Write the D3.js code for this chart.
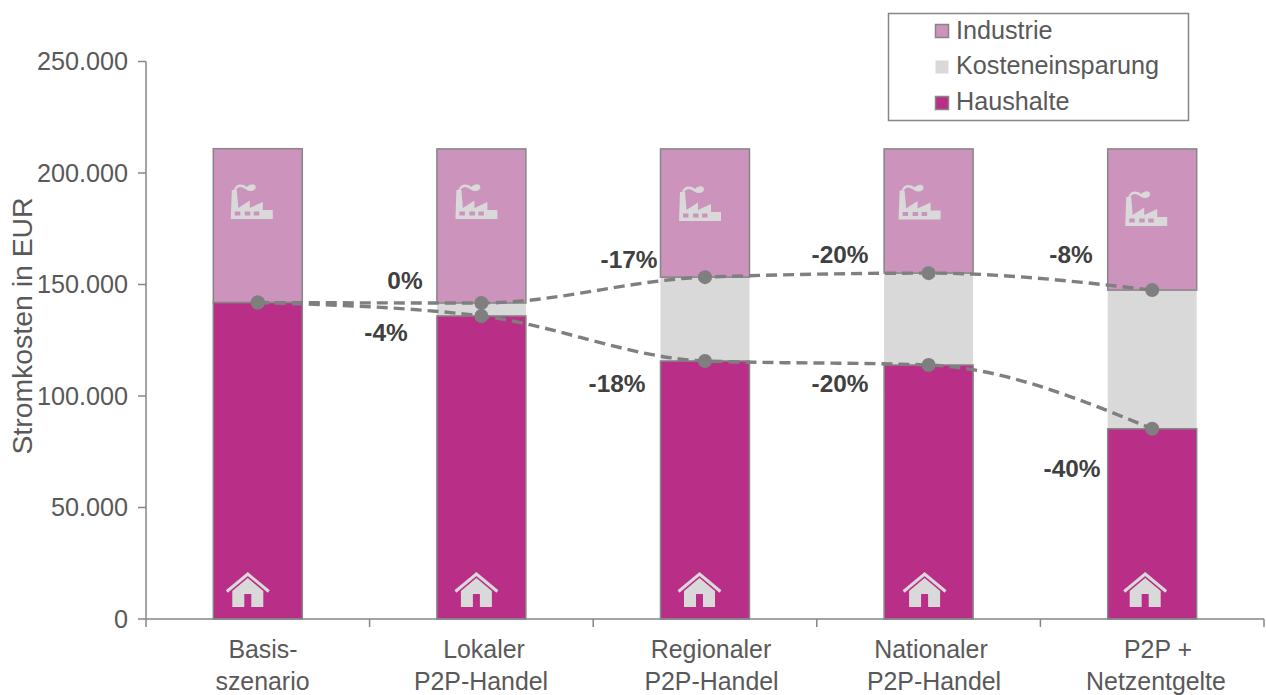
<!DOCTYPE html>
<html><head><meta charset="utf-8">
<script src="https://cdn.jsdelivr.net/npm/d3@7"></script>
<style>html,body{margin:0;background:#fff}svg{display:block}text{font-family:"Liberation Sans",Arial,sans-serif}</style>
</head><body><svg id="c" width="1266" height="695"></svg>
<script>
const categories=[["Basis-","szenario"],["Lokaler","P2P-Handel"],["Regionaler","P2P-Handel"],["Nationaler","P2P-Handel"],["P2P +","Netzentgelte"]];
const haushalte=[141900,135900,115700,113900,85300];
const einsparung=[0,5800,37600,41200,62200];
const industrie=[69000,69100,57500,55700,63300];
const labelsUpper=["0%","-17%","-20%","-8%"];
const labelsLower=["-4%","-18%","-20%","-40%"];
const yTicks=[0,50000,100000,150000,200000,250000];
const legendItems=["Industrie","Kosteneinsparung","Haushalte"];

const svg=d3.select("#c");
const C={haus:"#b92e87",ind:"#cc93bc",sav:"#d9d9d9",edge:"#868686",txt:"#595959",dark:"#404040",line:"#7f7f7f"};
const x=d3.scaleBand().domain(d3.range(5)).range([146,1264]);
const y=d3.scaleLinear().domain([0,250000]).range([619,61.5]);
const fmt=v=>d3.format(",")(v).replace(/,/g,".");
const bw=89, cx=i=>x(i)+x.bandwidth()/2;

function bar(i,v0,v1,fill,stroke){
  svg.append("rect").attr("x",cx(i)-bw/2).attr("width",bw).attr("y",y(v1)).attr("height",y(v0)-y(v1))
    .attr("fill",fill).attr("stroke",stroke||"none").attr("stroke-width",1.5);
}
categories.forEach((c,i)=>{
  const h=haushalte[i],s=einsparung[i],n=industrie[i];
  if(s>0) bar(i,h,h+s,C.sav);
  bar(i,h+s,h+s+n,C.ind,C.edge);
  bar(i,0,h,C.haus,C.edge);
});

// icons
const factoryShift=[[-27,183],[-26,183],[-26,185],[-30,183.5],[-27,190]];
const houseShift=[-10,-5,-5.5,-4,-7];
categories.forEach((c,i)=>{
  const g=svg.append("g").attr("transform",`translate(${cx(i)+factoryShift[i][0]},${factoryShift[i][1]})`);
  g.append("path").attr("d","M0 36L1 7H6L7.5 25L19 17.5V25L32 19V27H42V36Z").attr("fill",C.sav);
  g.append("path").attr("d","M3 7C5 1 11 0 16 4C19 1 24 0 25 4C25 8 19 9 16 7C12 4 8 2 5 7Z").attr("fill",C.sav);
  [4,14,23].forEach(dx=>g.append("rect").attr("x",dx).attr("y",28.5).attr("width",5.5).attr("height",4).attr("fill",C.ind));
  const k=svg.append("g").attr("transform",`translate(${cx(i)+houseShift[i]},573)`);
  k.append("path").attr("d","M-15.5 34V18L0 5L15.5 18V34H3.5V21H-3.5V34Z").attr("fill",C.sav);
  k.append("path").attr("d","M-21 18.5L0 1L21 18.5").attr("fill","none").attr("stroke",C.sav).attr("stroke-width",3);
});

// axes
const ax=svg.append("g").attr("fill","none").attr("stroke",C.edge).attr("stroke-width",1.5);
ax.append("line").attr("x1",146).attr("x2",146).attr("y1",y(250000)).attr("y2",y(0));
yTicks.forEach(t=>{
  ax.append("line").attr("x1",138).attr("x2",146).attr("y1",y(t)).attr("y2",y(t));
  svg.append("text").attr("x",128).attr("y",y(t)+8.5).attr("text-anchor","end").attr("font-size",25.2).attr("fill",C.txt).text(fmt(t));
});
ax.append("line").attr("x1",146).attr("x2",1264).attr("y1",y(0)).attr("y2",y(0));
d3.range(6).forEach(i=>{const px=146+i*x.bandwidth();ax.append("line").attr("x1",px).attr("x2",px).attr("y1",y(0)).attr("y2",y(0)+8);});
const catCentres=[[263,262.5],[484,481],[711,711.5],[931,934],[1158,1156]];
categories.forEach((c,i)=>c.forEach((t,j)=>svg.append("text").attr("x",catCentres[i][j]).attr("y",658+j*32).attr("text-anchor","middle").attr("font-size",24.9).attr("fill",C.txt).text(t)));
svg.append("text").attr("transform","translate(32,326) rotate(-90)").attr("text-anchor","middle").attr("font-size",28.4).attr("fill",C.txt).text("Stromkosten in EUR");

// saving curves
const upper=haushalte.map((h,i)=>h+einsparung[i]);
const lineGen=d3.line().x((d,i)=>cx(i)).y(d=>y(d)).curve(d3.curveMonotoneX);
[upper,haushalte].forEach(s=>{
  svg.append("path").attr("d",lineGen(s)).attr("fill","none").attr("stroke",C.line).attr("stroke-width",3.4).attr("stroke-dasharray","11 6");
  s.forEach((v,i)=>svg.append("circle").attr("cx",cx(i)).attr("cy",y(v)).attr("r",7).attr("fill",C.line));
});

// percentage labels
const lblPosU=[[405,289],[629,268],[840,263],[1071,263]];
const lblPosL=[[386,341],[617,392],[840,392],[1072,477]];
function lbl(t,p){svg.append("text").attr("x",p[0]).attr("y",p[1]).attr("text-anchor","middle").attr("font-size",24.4).attr("font-weight","bold").attr("fill",C.dark).text(t);}
labelsUpper.forEach((t,i)=>lbl(t,lblPosU[i]));
labelsLower.forEach((t,i)=>lbl(t,lblPosL[i]));

// legend
svg.append("rect").attr("x",888.5).attr("y",13.5).attr("width",300).attr("height",107).attr("fill","#fff").attr("stroke",C.edge).attr("stroke-width",1.5);
const legCol=[C.ind,C.sav,C.haus],legStroke=[C.edge,"none",C.edge],legY=[31,67,103],legBase=[39,74,110];
legendItems.forEach((t,i)=>{
  svg.append("rect").attr("x",935.5).attr("y",legY[i]-6.5).attr("width",13).attr("height",13).attr("fill",legCol[i]).attr("stroke",legStroke[i]).attr("stroke-width",1.5);
  svg.append("text").attr("x",956).attr("y",legBase[i]).attr("font-size",25.2).attr("fill",C.txt).text(t);
});
</script></body></html>
